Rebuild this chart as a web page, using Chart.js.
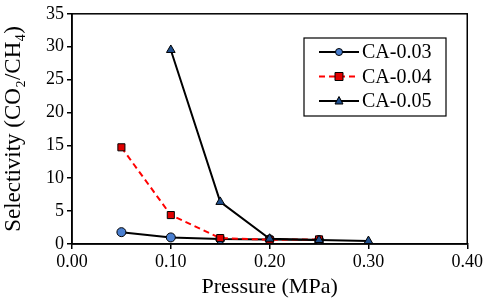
<!DOCTYPE html>
<html>
<head>
<meta charset="utf-8">
<script src="https://cdn.jsdelivr.net/npm/chart.js@4"></script>
<style>
  html, body { margin: 0; padding: 0; background: #fff; }
  #wrap { width: 485px; height: 300px; }
</style>
</head>
<body>
<div id="wrap"><canvas id="selChart"></canvas></div>
<script>
/* Selectivity vs pressure */

const PRESSURE_03 = [0.05, 0.10, 0.15, 0.20, 0.25];
const SEL_03      = [1.8, 1.0, 0.75, 0.7, 0.6];

const PRESSURE_04 = [0.05, 0.10, 0.15, 0.20, 0.25];
const SEL_04      = [14.7, 4.4, 0.9, 0.65, 0.7];

const PRESSURE_05 = [0.10, 0.15, 0.20, 0.25, 0.30];
const SEL_05      = [29.5, 6.4, 0.8, 0.6, 0.45];

const X_TICKS = [0.00, 0.10, 0.20, 0.30, 0.40];
const Y_TICKS = [0, 5, 10, 15, 20, 25, 30, 35];

const FONT = "'Liberation Serif', 'Times New Roman', serif";

const pts = (xs, ys) => xs.map((x, i) => ({ x, y: ys[i] }));

// frame + legend box drawn on top of the chart area
const framePlugin = {
  id: 'frame',
  afterDraw(chart) {
    const { ctx, chartArea: a } = chart;
    ctx.save();
    ctx.strokeStyle = '#000';
    ctx.lineWidth = 1.5;
    ctx.strokeRect(a.left, a.top, a.right - a.left, a.bottom - a.top);

    // legend
    const bx = 304, by = 38, bw = 142, bh = 78;
    ctx.fillStyle = '#fff';
    ctx.fillRect(bx, by, bw, bh);
    ctx.lineWidth = 1.2;
    ctx.strokeRect(bx, by, bw, bh);
    ctx.font = '20px ' + FONT;
    ctx.textBaseline = 'middle';
    chart.data.datasets.forEach((ds, i) => {
      const y = by + 14 + i * 24.5;
      ctx.strokeStyle = ds.borderColor;
      ctx.lineWidth = 2;
      ctx.setLineDash(ds.borderDash || []);
      ctx.beginPath();
      ctx.moveTo(bx + 15, y);
      ctx.lineTo(bx + 55, y);
      ctx.stroke();
      ctx.setLineDash([]);
      ctx.fillStyle = ds.pointBackgroundColor;
      ctx.strokeStyle = '#000';
      ctx.lineWidth = 1;
      const cx = bx + 35;
      ctx.beginPath();
      if (ds.pointStyle === 'circle') {
        ctx.arc(cx, y, 3.5, 0, Math.PI * 2);
      } else if (ds.pointStyle === 'rect') {
        ctx.rect(cx - 4, y - 4, 8, 8);
      } else {
        ctx.moveTo(cx, y - 4.5);
        ctx.lineTo(cx + 4, y + 3);
        ctx.lineTo(cx - 4, y + 3);
        ctx.closePath();
      }
      ctx.fill();
      ctx.stroke();
      ctx.fillStyle = '#000';
      ctx.fillText(ds.label, bx + 58, y + 1);
    });
    ctx.restore();
  },
};

new Chart(document.getElementById('selChart'), {
  type: 'line',
  data: {
    datasets: [
      {
        label: 'CA-0.03',
        data: pts(PRESSURE_03, SEL_03),
        order: 3,
        borderColor: '#000',
        borderWidth: 2,
        pointStyle: 'circle',
        pointRadius: 4.5,
        pointBackgroundColor: '#4a7fd0',
        pointBorderColor: '#000',
        pointBorderWidth: 1,
      },
      {
        label: 'CA-0.04',
        data: pts(PRESSURE_04, SEL_04),
        order: 2,
        borderColor: '#ff0000',
        borderDash: [6, 4],
        borderWidth: 2,
        pointStyle: 'rect',
        pointRadius: 5,
        pointBackgroundColor: '#e00000',
        pointBorderColor: '#000',
        pointBorderWidth: 1,
      },
      {
        label: 'CA-0.05',
        data: pts(PRESSURE_05, SEL_05),
        order: 1,
        borderColor: '#000',
        borderWidth: 2,
        pointStyle: 'triangle',
        pointRadius: 5,
        pointBackgroundColor: '#1f4e8c',
        pointBorderColor: '#000',
        pointBorderWidth: 1,
      },
    ],
  },
  options: {
    responsive: true,
    maintainAspectRatio: false,
    animation: false,
    layout: { padding: { top: 9, right: 17, left: 0, bottom: 0 } },
    plugins: { legend: { display: false }, tooltip: { enabled: false } },
    scales: {
      x: {
        type: 'linear',
        min: X_TICKS[0],
        max: X_TICKS[X_TICKS.length - 1],
        afterBuildTicks: s => { s.ticks = X_TICKS.map(v => ({ value: v })); },
        afterFit: s => { s.height = 56; },
        grid: { drawOnChartArea: false, drawTicks: true, tickLength: 5, color: '#000', lineWidth: 1.5 },
        border: { color: '#000', width: 1.5 },
        ticks: { color: '#000', font: { family: FONT, size: 18 }, padding: 2, callback: v => v.toFixed(2), maxRotation: 0 },
        title: { display: true, text: 'Pressure (MPa)', color: '#000', font: { family: FONT, size: 22 }, padding: { top: 0, bottom: 0 } },
      },
      y: {
        min: Y_TICKS[0],
        max: Y_TICKS[Y_TICKS.length - 1],
        afterBuildTicks: s => { s.ticks = Y_TICKS.map(v => ({ value: v })); },
        afterFit: s => { s.width = 72; },
        grid: { drawOnChartArea: false, drawTicks: true, tickLength: 5, color: '#000', lineWidth: 1.5 },
        border: { color: '#000', width: 1.5 },
        ticks: { color: '#000', font: { family: FONT, size: 18 }, padding: 3 },
        title: { display: true, text: 'Selectivity (CO₂/CH₄)', color: '#000', font: { family: FONT, size: 23 }, padding: { top: 0, bottom: 2 } },
      },
    },
  },
  plugins: [framePlugin],
});
</script>
</body>
</html>
